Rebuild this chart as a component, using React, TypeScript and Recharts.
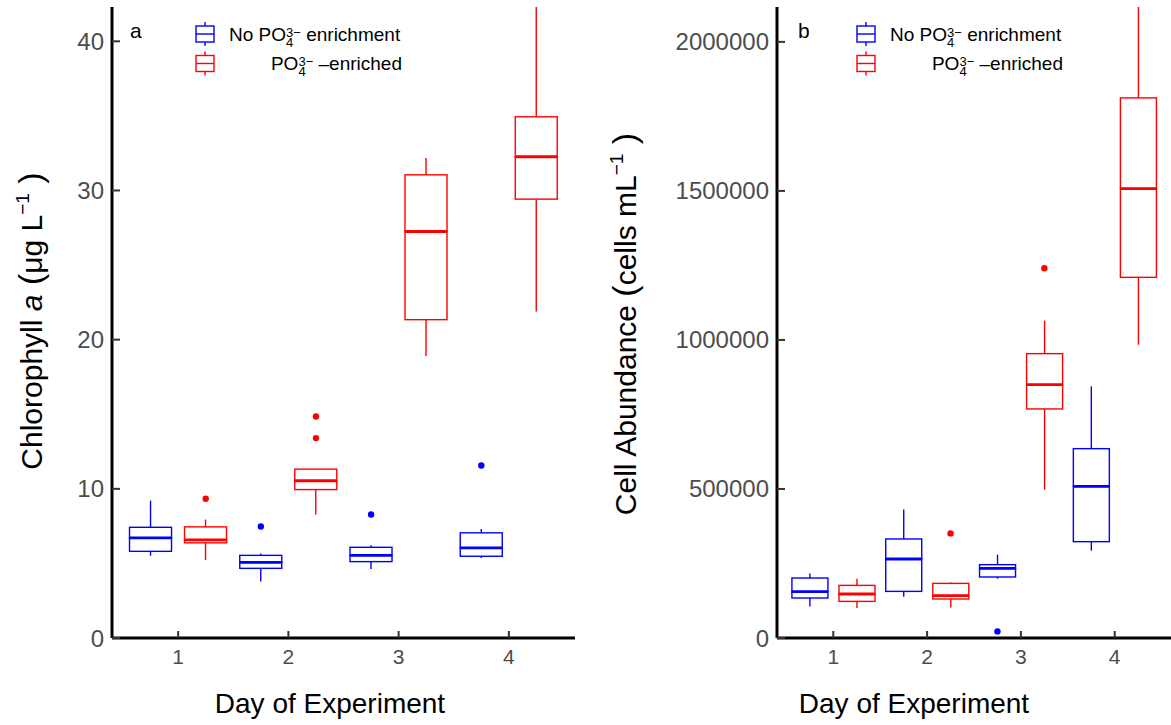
import { ComposedChart, Bar, Scatter, XAxis, YAxis, Legend } from "recharts";

const FONT = "'Liberation Sans', Arial, Helvetica, sans-serif";
const BLUE = "#0000ff";
const RED = "#ff0000";

const days = [1, 2, 3, 4];
const dayTicks = [1, 2, 3, 4];
const chlTicks = [0, 10, 20, 30, 40];
const cellTicks = [0, 500000, 1000000, 1500000, 2000000];

// [lower whisker, Q1, median, Q3, upper whisker] for each day
const chlNoP = [
  [5.52, 5.81, 6.71, 7.42, 9.21],
  [3.78, 4.67, 5.07, 5.54, 5.66],
  [4.63, 5.12, 5.54, 6.08, 6.22],
  [5.37, 5.48, 6.04, 7.05, 7.31],
];
const chlP = [
  [5.23, 6.38, 6.58, 7.45, 7.94],
  [8.28, 9.95, 10.54, 11.32, 11.32],
  [18.9, 21.34, 27.25, 31.05, 32.17],
  [21.88, 29.42, 32.26, 34.94, 42.3],
];
// [day, value]
const chlNoPOutliers = [
  [2, 7.47],
  [3, 8.28],
  [4, 11.56],
];
const chlPOutliers = [
  [1, 9.33],
  [2, 13.4],
  [2, 14.85],
];

const cellNoP = [
  [106000, 134200, 155400, 201300, 216800],
  [138600, 156400, 265100, 332200, 431500],
  [199000, 204700, 233600, 246000, 279500],
  [293000, 323200, 508700, 635200, 844300],
];
const cellP = [
  [100700, 122800, 147600, 176500, 199000],
  [102700, 130900, 141900, 183200, 186600],
  [497600, 768500, 850000, 954000, 1064800],
  [984200, 1210000, 1507700, 1812000, 2117000],
];
const cellNoPOutliers = [[3, 22100]];
const cellPOutliers = [
  [2, 351000],
  [3, 1240300],
];

const DODGE = 0.25;

function boxRows(noP: number[][], p: number[][]) {
  return days.map((day, i) => {
    const n = noP[i];
    const e = p[i];
    return {
      x: day,
      nBase: n[0],
      nLow: n[1] - n[0],
      nMidLo: n[2] - n[1],
      nMidHi: n[3] - n[2],
      nHigh: n[4] - n[3],
      pBase: e[0],
      pLow: e[1] - e[0],
      pMidLo: e[2] - e[1],
      pMidHi: e[3] - e[2],
      pHigh: e[4] - e[3],
    };
  });
}

function pointRows(out: number[][], shift: number) {
  return out.map(([day, v]) => ({ x: day + shift, y: v }));
}

const empty = () => <g />;

const whisker = (color: string) => (p: any) => {
  const cx = p.x + p.width / 2;
  return (
    <line x1={cx} x2={cx} y1={p.y} y2={p.y + p.height} stroke={color} strokeWidth={1.4} />
  );
};

const boxPart = (color: string, withMedian: boolean) => (p: any) => (
  <g>
    <rect x={p.x} y={p.y} width={p.width} height={p.height} fill="none" stroke={color} strokeWidth={1.4} />
    {withMedian && (
      <line x1={p.x} x2={p.x + p.width} y1={p.y + p.height} y2={p.y + p.height} stroke={color} strokeWidth={2.8} />
    )}
  </g>
);

const dot = (color: string) => (p: any) => <circle cx={p.cx} cy={p.cy} r={3.2} fill={color} />;

const YTick = (p: any) => (
  <g>
    <line x1={p.x} x2={p.x + 8} y1={p.y} y2={p.y} stroke="#333" strokeWidth={2} />
    <text x={p.x - 8} y={p.y + 8.5} textAnchor="end" fontSize={24} fontFamily={FONT} fill="#4d4d4d">
      {p.payload.value}
    </text>
  </g>
);

const XTick = (p: any) => (
  <g>
    <line x1={p.x} x2={p.x} y1={p.y} y2={p.y - 7} stroke="#333" strokeWidth={2} />
    <text x={p.x} y={p.y + 26} textAnchor="middle" fontSize={21} fontFamily={FONT} fill="#4d4d4d">
      {p.payload.value}
    </text>
  </g>
);

function glyph(cx: number, cy: number, color: string) {
  return (
    <g stroke={color} fill="none" strokeWidth={1.4}>
      <line x1={cx} x2={cx} y1={cy - 12} y2={cy + 12} />
      <rect x={cx - 9} y={cy - 8} width={18} height={16} fill="#fff" />
      <line x1={cx - 9} x2={cx + 9} y1={cy} y2={cy} />
    </g>
  );
}

function LegendBox({ letter, letterX, glyphX, textX, textEnd }: any) {
  return (
    <svg width={330} height={90} style={{ display: "block", overflow: "visible" }} fontFamily={FONT}>
      <text x={letterX} y={38} fontSize={21} fill="#000">
        {letter}
      </text>
      {glyph(glyphX, 34, BLUE)}
      {glyph(glyphX, 63.5, RED)}
      <text x={textX} y={41} fontSize={19} fill="#000">
        {"No PO"}
        <tspan fontSize={13} dy={5.5}>4</tspan>
        <tspan fontSize={13} dx={-7.2} dy={-10}>3−</tspan>
        <tspan dy={4.5}>{" enrichment"}</tspan>
      </text>
      <text x={textEnd} y={70} fontSize={19} fill="#000" textAnchor="end">
        {"PO"}
        <tspan fontSize={13} dy={5.5}>4</tspan>
        <tspan fontSize={13} dx={-7.2} dy={-10}>3−</tspan>
        <tspan dy={4.5}>{"  –enriched"}</tspan>
      </text>
    </svg>
  );
}

const axisLine = { stroke: "#000", strokeWidth: 3 };

function Panel(props: any) {
  const { rows, dotsNo, dotsP, yMax, yTicks, yAxisWidth, width, marginRight, xTitleX, yTitle, legend } = props;
  return (
    <ComposedChart
      width={width}
      height={725}
      data={rows}
      margin={{ top: 7, right: marginRight, bottom: 0, left: 0 }}
      barGap="11.8%"
      barCategoryGap="5.9%"
    >
      <XAxis
        dataKey="x"
        type="number"
        domain={[0.4, 4.6]}
        ticks={dayTicks}
        interval={0}
        allowDataOverflow
        height={87}
        tickSize={0}
        tickMargin={0}
        tickLine={false}
        axisLine={axisLine}
        tick={(p: any) => <XTick {...p} />}
        label={{
          content: () => (
            <text x={xTitleX} y={713} textAnchor="middle" fontSize={28} fontFamily={FONT} fill="#000">
              Day of Experiment
            </text>
          ),
        }}
      />
      <XAxis xAxisId="pts" dataKey="x" type="number" domain={[0.4, 4.6]} allowDataOverflow hide />
      <YAxis
        type="number"
        domain={[0, yMax]}
        ticks={yTicks}
        interval={0}
        allowDataOverflow
        width={yAxisWidth}
        tickSize={0}
        tickMargin={0}
        tickLine={false}
        axisLine={axisLine}
        tick={(p: any) => <YTick {...p} />}
        label={{ content: yTitle }}
      />
      <Bar dataKey="nBase" stackId="n" shape={empty} isAnimationActive={false} />
      <Bar dataKey="nLow" stackId="n" shape={whisker(BLUE)} isAnimationActive={false} />
      <Bar dataKey="nMidLo" stackId="n" shape={boxPart(BLUE, false)} isAnimationActive={false} />
      <Bar dataKey="nMidHi" stackId="n" shape={boxPart(BLUE, true)} isAnimationActive={false} />
      <Bar dataKey="nHigh" stackId="n" shape={whisker(BLUE)} isAnimationActive={false} />
      <Bar dataKey="pBase" stackId="p" shape={empty} isAnimationActive={false} />
      <Bar dataKey="pLow" stackId="p" shape={whisker(RED)} isAnimationActive={false} />
      <Bar dataKey="pMidLo" stackId="p" shape={boxPart(RED, false)} isAnimationActive={false} />
      <Bar dataKey="pMidHi" stackId="p" shape={boxPart(RED, true)} isAnimationActive={false} />
      <Bar dataKey="pHigh" stackId="p" shape={whisker(RED)} isAnimationActive={false} />
      <Scatter xAxisId="pts" data={dotsNo} dataKey="y" shape={dot(BLUE)} isAnimationActive={false} />
      <Scatter xAxisId="pts" data={dotsP} dataKey="y" shape={dot(RED)} isAnimationActive={false} />
      <Legend
        layout="horizontal"
        verticalAlign="middle"
        wrapperStyle={{ position: "absolute", left: yAxisWidth, top: 0, width: 330, height: 90 }}
        content={() => <LegendBox {...legend} />}
      />
    </ComposedChart>
  );
}

const chlTitle = () => (
  <text x={42} y={321} transform="rotate(-90 42 321)" textAnchor="middle" fontSize={30} fontFamily={FONT} fill="#000">
    {"Chlorophyll "}
    <tspan fontStyle="italic">a</tspan>
    <tspan fontSize={34}>{" ("}</tspan>
    <tspan>{"μg L"}</tspan>
    <tspan fontSize={19} dy={-13}>−1</tspan>
    <tspan fontSize={34} dy={13}>{" )"}</tspan>
  </text>
);

const cellTitle = () => (
  <text x={46} y={324} transform="rotate(-90 46 324)" textAnchor="middle" fontSize={30} fontFamily={FONT} fill="#000">
    {"Cell Abundance "}
    <tspan fontSize={34}>(</tspan>
    <tspan>{"cells mL"}</tspan>
    <tspan fontSize={19} dy={-13}>−1</tspan>
    <tspan fontSize={34} dy={13}>{" )"}</tspan>
  </text>
);

export default function App() {
  return (
    <div style={{ position: "absolute", left: 0, top: 0, width: 1171, height: 725, background: "#fff", fontFamily: FONT }}>
      <div style={{ position: "absolute", left: 0, top: 0 }}>
        <Panel
          rows={boxRows(chlNoP, chlP)}
          dotsNo={pointRows(chlNoPOutliers, -DODGE)}
          dotsP={pointRows(chlPOutliers, DODGE)}
          yMax={42.3}
          yTicks={chlTicks}
          yAxisWidth={112}
          width={590}
          marginRight={15}
          xTitleX={330}
          yTitle={chlTitle}
          legend={{ letter: "a", letterX: 18, glyphX: 93, textX: 117, textEnd: 290 }}
        />
      </div>
      <div style={{ position: "absolute", left: 590, top: 0 }}>
        <Panel
          rows={boxRows(cellNoP, cellP)}
          dotsNo={pointRows(cellNoPOutliers, -DODGE)}
          dotsP={pointRows(cellPOutliers, DODGE)}
          yMax={2117000}
          yTicks={cellTicks}
          yAxisWidth={187}
          width={581}
          marginRight={0}
          xTitleX={324}
          yTitle={cellTitle}
          legend={{ letter: "b", letterX: 21, glyphX: 89, textX: 113, textEnd: 286 }}
        />
      </div>
    </div>
  );
}
